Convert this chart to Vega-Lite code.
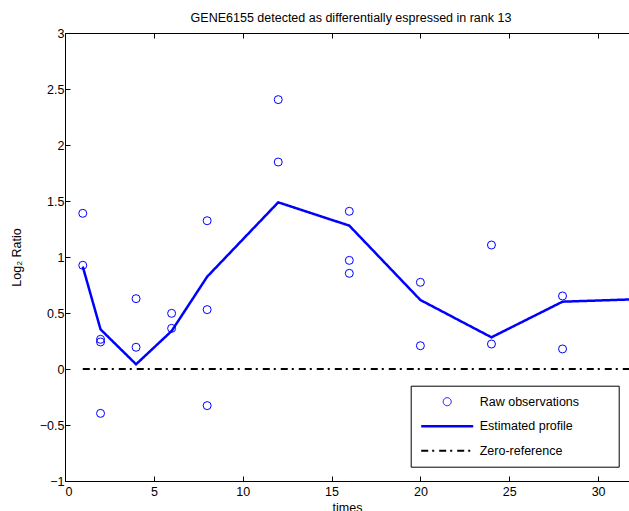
{
  "$schema": "https://vega.github.io/schema/vega-lite/v6.json",
  "width": 564,
  "height": 448,
  "autosize": {"type": "none"},
  "padding": {"left": 65, "top": 33, "right": 0, "bottom": 30},
  "config": {
    "font": "Liberation Sans",
    "view": {"stroke": null},
    "axis": {
      "grid": false,
      "domainColor": "#000000",
      "domainWidth": 1,
      "tickColor": "#000000",
      "tickWidth": 1,
      "tickSize": -5,
      "labelColor": "#000000",
      "labelFontSize": 12.5,
      "titleColor": "#000000",
      "titleFontSize": 12.5,
      "titleFontWeight": "normal",
      "labelFont": "Liberation Sans",
      "titleFont": "Liberation Sans"
    },
    "legend": {
      "title": null,
      "labelFontSize": 12.5,
      "labelColor": "#000000",
      "labelFont": "Liberation Sans"
    }
  },
  "title": {
    "text": "GENE6155 detected as differentially espressed in rank 13",
    "fontSize": 12.5,
    "fontWeight": "normal",
    "color": "#000000",
    "font": "Liberation Sans",
    "anchor": "middle",
    "offset": 3,
    "dx": 4
  },
  "datasets": {
    "obs": [
      {"series": "Raw observations", "time": 1, "value": 1.39},
      {"series": "Raw observations", "time": 1, "value": 0.926},
      {"series": "Raw observations", "time": 2, "value": 0.265},
      {"series": "Raw observations", "time": 2, "value": 0.241},
      {"series": "Raw observations", "time": 2, "value": -0.396},
      {"series": "Raw observations", "time": 4, "value": 0.628},
      {"series": "Raw observations", "time": 4, "value": 0.194},
      {"series": "Raw observations", "time": 6, "value": 0.497},
      {"series": "Raw observations", "time": 6, "value": 0.363},
      {"series": "Raw observations", "time": 8, "value": 1.324},
      {"series": "Raw observations", "time": 8, "value": 0.53},
      {"series": "Raw observations", "time": 8, "value": -0.327},
      {"series": "Raw observations", "time": 12, "value": 2.405},
      {"series": "Raw observations", "time": 12, "value": 1.848},
      {"series": "Raw observations", "time": 16, "value": 1.408},
      {"series": "Raw observations", "time": 16, "value": 0.97},
      {"series": "Raw observations", "time": 16, "value": 0.854},
      {"series": "Raw observations", "time": 20, "value": 0.774},
      {"series": "Raw observations", "time": 20, "value": 0.208},
      {"series": "Raw observations", "time": 24, "value": 1.107},
      {"series": "Raw observations", "time": 24, "value": 0.223},
      {"series": "Raw observations", "time": 28, "value": 0.652},
      {"series": "Raw observations", "time": 28, "value": 0.179}
    ],
    "profile": [
      {"series": "Estimated profile", "time": 1, "value": 0.914},
      {"series": "Estimated profile", "time": 2, "value": 0.354},
      {"series": "Estimated profile", "time": 4, "value": 0.042},
      {"series": "Estimated profile", "time": 6, "value": 0.339},
      {"series": "Estimated profile", "time": 8, "value": 0.824},
      {"series": "Estimated profile", "time": 12, "value": 1.488},
      {"series": "Estimated profile", "time": 16, "value": 1.28},
      {"series": "Estimated profile", "time": 20, "value": 0.616},
      {"series": "Estimated profile", "time": 24, "value": 0.283},
      {"series": "Estimated profile", "time": 28, "value": 0.601},
      {"series": "Estimated profile", "time": 32, "value": 0.622}
    ],
    "zero": [
      {"series": "Zero-reference", "time": 1, "value": 0},
      {"series": "Zero-reference", "time": 32, "value": 0}
    ]
  },
  "layer": [
    {
      "data": {"name": "zero"},
      "mark": {"type": "line", "clip": true},
      "encoding": {
        "x": {"field": "time", "type": "quantitative", "scale": {"domain": [0, 31.74], "nice": false, "zero": false},
              "axis": {"orient": "top", "labels": false, "title": null, "values": [0, 5, 10, 15, 20, 25, 30]}},
        "y": {"field": "value", "type": "quantitative", "scale": {"domain": [-1, 3], "nice": false}, "axis": null},
        "color": {"field": "series", "type": "nominal", "scale": {"domain": ["Raw observations", "Estimated profile", "Zero-reference"], "range": ["#0000ff", "#0000ff", "#000000"]}},
        "strokeDash": {"field": "series", "type": "nominal", "scale": {"domain": ["Raw observations", "Estimated profile", "Zero-reference"], "range": [[1, 0], [1, 0], [7, 4, 2, 5]]}},
        "strokeWidth": {"field": "series", "type": "nominal", "scale": {"type": "ordinal", "domain": ["Raw observations", "Estimated profile", "Zero-reference"], "range": [1, 2.5, 2]}}
      }
    },
    {
      "data": {"name": "profile"},
      "mark": {"type": "line", "clip": true},
      "encoding": {
        "x": {"field": "time", "type": "quantitative", "scale": {"domain": [0, 31.74], "nice": false, "zero": false}, "axis": null},
        "y": {"field": "value", "type": "quantitative", "scale": {"domain": [-1, 3], "nice": false}, "axis": null},
        "color": {"field": "series", "type": "nominal", "scale": {"domain": ["Raw observations", "Estimated profile", "Zero-reference"], "range": ["#0000ff", "#0000ff", "#000000"]}},
        "strokeDash": {"field": "series", "type": "nominal", "scale": {"domain": ["Raw observations", "Estimated profile", "Zero-reference"], "range": [[1, 0], [1, 0], [7, 4, 2, 5]]}},
        "strokeWidth": {"field": "series", "type": "nominal", "scale": {"type": "ordinal", "domain": ["Raw observations", "Estimated profile", "Zero-reference"], "range": [1, 2.5, 2]}}
      }
    },
    {
      "data": {"name": "obs"},
      "mark": {"type": "point", "filled": false, "opacity": 1},
      "encoding": {
        "x": {"field": "time", "type": "quantitative", "scale": {"domain": [0, 31.74], "nice": false, "zero": false},
              "axis": {"orient": "bottom", "title": "times", "values": [0, 5, 10, 15, 20, 25, 30], "labelPadding": 9, "titlePadding": 4}},
        "y": {"field": "value", "type": "quantitative", "scale": {"domain": [-1, 3], "nice": false},
              "axis": {"title": "Log₂ Ratio", "values": [-1, -0.5, 0, 0.5, 1, 1.5, 2, 2.5, 3], "format": "~g", "labelPadding": 6, "titlePadding": 16}},
        "color": {
          "field": "series",
          "type": "nominal",
          "scale": {"domain": ["Raw observations", "Estimated profile", "Zero-reference"], "range": ["#0000ff", "#0000ff", "#000000"]},
          "legend": {
            "title": null,
            "orient": "none",
            "legendX": 345.7,
            "legendY": 352.7,
            "padding": 9,
            "strokeColor": "#000000",
            "fillColor": "#ffffff",
            "labelOffset": 5,
            "clipHeight": 14,
            "rowPadding": 10.5,
            "labelLimit": 400,
            "labelExpr": "datum.label + '\u2800\u2800\u2800'"
          }
        },
        "shape": {"field": "series", "type": "nominal", "scale": {"domain": ["Raw observations", "Estimated profile", "Zero-reference"], "range": ["circle", "stroke", "stroke"]}},
        "size": {"field": "series", "type": "nominal", "scale": {"type": "ordinal", "domain": ["Raw observations", "Estimated profile", "Zero-reference"], "range": [64, 2704, 2704]}},
        "strokeWidth": {"field": "series", "type": "nominal", "scale": {"type": "ordinal", "domain": ["Raw observations", "Estimated profile", "Zero-reference"], "range": [1, 2.5, 2]}}
      }
    }
  ],
  "resolve": {"axis": {"x": "independent", "y": "independent"}}
}
